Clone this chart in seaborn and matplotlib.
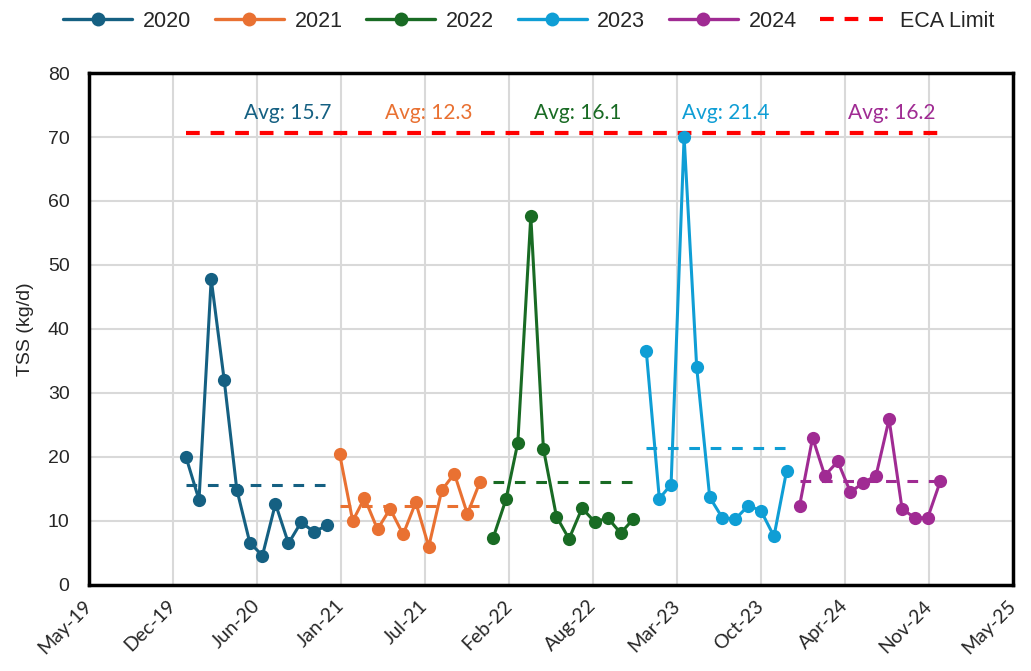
import numpy as np
import pandas as pd
import matplotlib
matplotlib.use('Agg')
from matplotlib import pyplot as plt
import matplotlib.dates as mdates
from matplotlib.lines import Line2D
import seaborn as sns

# data (monthly TSS, kg/d)
years = [2020, 2021, 2022, 2023, 2024]
tss_2020 = [20.0, 13.3, 47.8, 32.0, 14.9, 6.6, 4.6, 12.7, 6.5, 9.8, 8.3, 9.3]
tss_2021 = [20.4, 10.0, 13.6, 8.7, 11.9, 7.9, 12.9, 6.0, 14.8, 17.4, 11.1, 16.1]
tss_2022 = [7.3, 13.4, 22.2, 57.6, 21.3, 10.7, 7.2, 12.0, 9.8, 10.5, 8.1, 10.3]
tss_2023 = [36.5, 13.5, 15.7, 70.0, 34.0, 13.7, 10.5, 10.3, 12.4, 11.6, 7.6, 17.8]
tss_2024 = [12.4, 23.0, 17.1, 19.3, 14.5, 16.0, 17.1, 25.9, 11.9, 10.5, 10.5, 16.2]
averages = [15.7, 12.3, 16.1, 21.4, 16.2]
eca_limit = 70.6

colors = ['#156082', '#E97132', '#196B24', '#0F9ED5', '#A02B93']

series = [tss_2020, tss_2021, tss_2022, tss_2023, tss_2024]
rows = []
for y, vals in zip(years, series):
    dates = pd.date_range(f'{y}-01-01', periods=12, freq='MS')
    for d, v in zip(dates, vals):
        rows.append({'date': d, 'tss': v, 'year': str(y)})
df = pd.DataFrame(rows)

sns.set_style('white')
plt.rcParams['font.family'] = ['Liberation Sans', 'DejaVu Sans']

fig = plt.figure(figsize=(10.31, 6.71), dpi=100)
ax = fig.add_axes([0.0863, 0.1282, 0.8962, 0.763])

palette = dict(zip([str(y) for y in years], colors))
sns.lineplot(data=df, x='date', y='tss', hue='year', palette=palette, marker='o',
             markersize=9.5, markeredgewidth=0, linewidth=2.2, ax=ax, legend=False)

# yearly averages
label_offsets = [243, 211, 202, 188, 219]  # days from Jan 1 for label centre
for y, avg, c, off in zip(years, averages, colors, label_offsets):
    ax.hlines(avg, pd.Timestamp(f'{y}-01-01'), pd.Timestamp(f'{y}-12-01'),
              colors=c, linestyles=(0, (3.5, 3.5)), linewidth=2.2, zorder=1)
    ax.text(pd.Timestamp(f'{y}-01-01') + pd.Timedelta(days=off), 73.8, f'Avg: {avg:.1f}',
            color=c, ha='center', va='center', fontsize=15, family=['Lato', 'DejaVu Sans'])

ax.hlines(eca_limit, pd.Timestamp('2020-01-01'), pd.Timestamp('2024-12-01'),
          colors='#FF0000', linestyles=(0, (3.3, 2.6)), linewidth=3, zorder=1)

# axes
x0 = pd.Timestamp('2019-05-15')
ticks = [x0 + pd.Timedelta(days=200 * i) for i in range(12)]
ax.set_xlim(ticks[0], ticks[-1])
ax.set_xticks(ticks)
ax.xaxis.set_major_formatter(mdates.DateFormatter('%b-%y'))
for lab in ax.get_xticklabels():
    lab.set_rotation(45)
    lab.set_ha('right')
    lab.set_va('center')
    lab.set_rotation_mode('anchor')
    lab.set_fontfamily(['Lato', 'DejaVu Sans'])
    lab.set_fontsize(14)
ax.set_ylim(0, 80)
ax.set_yticks(range(0, 81, 10))
ax.tick_params(axis='y', labelsize=14, length=0, pad=14)
ax.tick_params(axis='x', length=0, pad=13)
ax.grid(True, color='#D9D9D9', linewidth=1.5)
ax.set_axisbelow(True)
for s in ax.spines.values():
    s.set_color('black')
    s.set_linewidth(2.5)
ax.set_xlabel('')
ax.set_ylabel('TSS (kg/d)', fontsize=14, labelpad=10)

handles = [Line2D([], [], color=c, marker='o', markersize=10, markeredgewidth=0, linewidth=2.4)
           for c in colors]
handles.append(Line2D([], [], color='#FF0000', linestyle=(0, (3.3, 2.6)), linewidth=3))
labels = [str(y) for y in years] + ['ECA Limit']
fig.legend(handles, labels, loc='center', bbox_to_anchor=(0.513, 0.968), ncol=6, frameon=False,
           fontsize=15.5, handlelength=3.2, columnspacing=1.1, handletextpad=0.5)

fig.savefig('out.png', dpi=100)
